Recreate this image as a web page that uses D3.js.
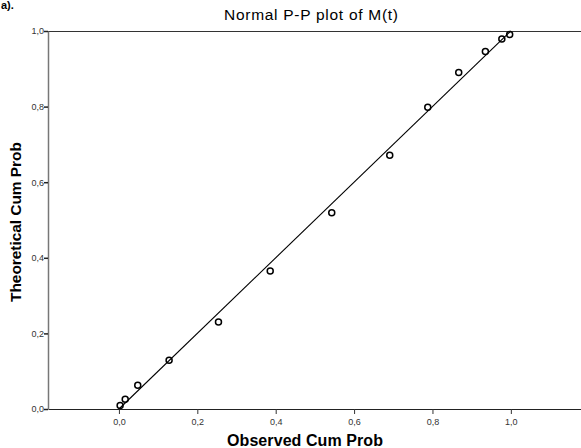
<!DOCTYPE html>
<html>
<head>
<meta charset="utf-8">
<script src="https://d3js.org/d3.v7.min.js"></script>
<style>
  body { margin: 0; background: #fff; }
  svg { display: block; font-family: Arial, "Liberation Sans", sans-serif; }
  .tick text { fill: #333; font-size: 9px; }
</style>
</head>
<body>
<svg width="581" height="448"></svg>
<script>
// observed vs theoretical cumulative probabilities
var observed    = [0.003, 0.016, 0.048, 0.128, 0.254, 0.386, 0.543, 0.691, 0.788, 0.867, 0.935, 0.977, 0.997];
var theoretical = [0.009, 0.026, 0.063, 0.129, 0.230, 0.365, 0.519, 0.671, 0.798, 0.890, 0.946, 0.979, 0.991];
var tickValues  = [0, 0.2, 0.4, 0.6, 0.8, 1.0];
var tickLabels  = ["0,0", "0,2", "0,4", "0,6", "0,8", "1,0"];
var diagonal    = [0, 1];

var svg = d3.select("svg");
var plotLeft = 48, plotRight = 581, plotTop = 31, plotBottom = 409;

var x = d3.scaleLinear().domain([-0.181, 1.179]).range([plotLeft, plotRight]);
var y = d3.scaleLinear().domain([0, 1]).range([plotBottom, plotTop]);

// label of the original figure, mostly cropped away there
svg.append("text")
    .attr("x", 1).attr("y", 9)
    .style("font-size", "11px").style("font-weight", "bold")
    .text("a).");

svg.append("text")
    .attr("x", 311).attr("y", 20)
    .attr("text-anchor", "middle")
    .attr("textLength", 174).attr("lengthAdjust", "spacing")
    .style("font-size", "15.5px")
    .text("Normal P-P plot of M(t)");

// top frame line
svg.append("line")
    .attr("x1", plotLeft).attr("x2", plotRight)
    .attr("y1", plotTop + 0.5).attr("y2", plotTop + 0.5)
    .attr("stroke", "#333");

var fmt = function(d) { return tickLabels[tickValues.indexOf(d)]; };

var xAxis = svg.append("g")
    .attr("transform", "translate(0," + plotBottom + ")")
    .call(d3.axisBottom(x).tickValues(tickValues).tickFormat(fmt).tickSize(5).tickSizeOuter(0));
xAxis.select(".domain").attr("stroke", "#222");
xAxis.selectAll(".tick line").attr("stroke", "#333");
xAxis.selectAll(".tick text").attr("dy", "0.85em");

var yAxis = svg.append("g")
    .attr("transform", "translate(" + plotLeft + ",0)")
    .call(d3.axisLeft(y).tickValues(tickValues).tickFormat(fmt).tickSize(4).tickSizeOuter(0));
yAxis.select(".domain").attr("stroke", "#777").attr("stroke-width", 1.5);
yAxis.selectAll(".tick line").attr("stroke", "#222").attr("stroke-width", 1.5);
yAxis.selectAll(".tick text").attr("x", -4);

// reference line
svg.append("line")
    .attr("x1", x(diagonal[0])).attr("y1", y(diagonal[0]))
    .attr("x2", x(diagonal[1])).attr("y2", y(diagonal[1]))
    .attr("stroke", "#000").attr("stroke-width", 1.1);

svg.append("g")
    .selectAll("circle")
    .data(observed)
    .enter().append("circle")
    .attr("cx", function(d) { return x(d); })
    .attr("cy", function(d, i) { return y(theoretical[i]); })
    .attr("r", 3)
    .attr("fill", "none")
    .attr("stroke", "#000")
    .attr("stroke-width", 1.5);

svg.append("text")
    .attr("x", 305).attr("y", 446)
    .attr("text-anchor", "middle")
    .attr("textLength", 156).attr("lengthAdjust", "spacing")
    .style("font-size", "16px").style("font-weight", "bold")
    .text("Observed Cum Prob");

svg.append("text")
    .attr("transform", "translate(21,222)rotate(-90)")
    .attr("text-anchor", "middle")
    .attr("textLength", 160).attr("lengthAdjust", "spacing")
    .style("font-size", "15.5px").style("font-weight", "bold")
    .text("Theoretical Cum Prob");
</script>
</body>
</html>
